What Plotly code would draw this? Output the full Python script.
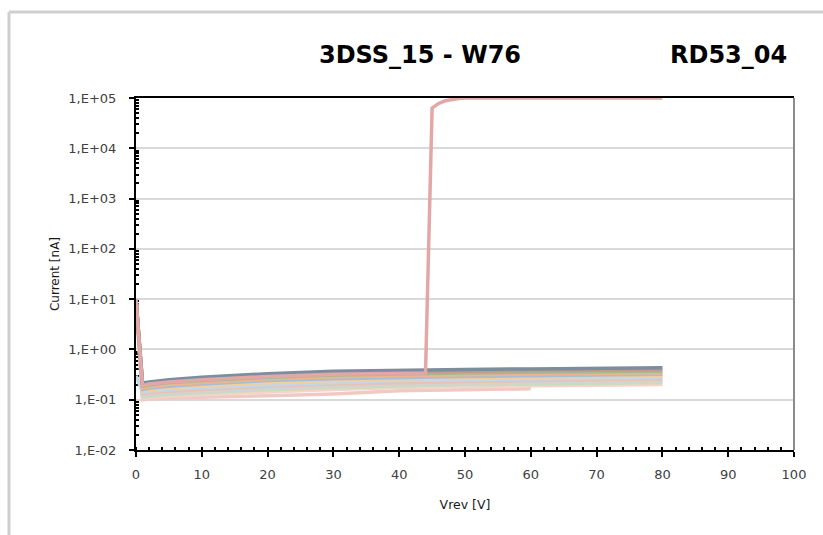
import plotly.graph_objects as go

# ---------------- data ----------------
V = [0, 1, 2, 5, 10, 20, 30, 40, 50, 60, 70, 80]

pix01 = [10, 0.215, 0.225, 0.25, 0.28, 0.33, 0.37, 0.39, 0.40, 0.41, 0.42, 0.43]
pix02 = [10, 0.200, 0.210, 0.235, 0.26, 0.305, 0.34, 0.36, 0.37, 0.38, 0.39, 0.40]
pix03 = [10, 0.185, 0.195, 0.220, 0.24, 0.28, 0.31, 0.33, 0.34, 0.35, 0.36, 0.37]
pix04 = [10, 0.172, 0.180, 0.200, 0.22, 0.26, 0.285, 0.305, 0.315, 0.325, 0.335, 0.345]
pix05 = [10, 0.160, 0.168, 0.185, 0.205, 0.24, 0.26, 0.28, 0.29, 0.30, 0.31, 0.32]
pix06 = [10, 0.150, 0.157, 0.172, 0.19, 0.22, 0.24, 0.26, 0.27, 0.28, 0.29, 0.30]
pix07 = [0.3, 0.140, 0.147, 0.160, 0.175, 0.20, 0.22, 0.24, 0.25, 0.26, 0.27, 0.28]
pix08 = [10, 0.130, 0.137, 0.148, 0.16, 0.185, 0.205, 0.22, 0.23, 0.24, 0.25, 0.26]
pix09 = [10, 0.120, 0.127, 0.137, 0.148, 0.17, 0.19, 0.205, 0.215, 0.22, 0.23, 0.24]
pix10 = [10, 0.112, 0.118, 0.127, 0.137, 0.158, 0.175, 0.19, 0.20, 0.205, 0.21, 0.22]
pix11 = [10, 0.105, 0.110, 0.118, 0.127, 0.145, 0.16, 0.175, 0.185, 0.19, 0.195, 0.20]

V12 = [0, 1, 2, 5, 10, 20, 30, 40, 50, 60]
pix12 = [10, 0.100, 0.103, 0.107, 0.112, 0.12, 0.13, 0.15, 0.16, 0.165]

VB = [0, 1, 2, 5, 10, 20, 30, 40, 43, 44, 45, 46, 47, 48, 49, 50, 60, 70, 80]
pixB = [10, 0.19, 0.205, 0.225, 0.25, 0.29, 0.32, 0.335, 0.34, 0.34,
        63000, 78000, 88000, 94000, 98000, 100000, 100000, 100000, 100000]

curves = [
    (V12, pix12, "#f1c9c4"),
    (V, pix11, "#f2d4c8"),
    (V, pix10, "#c9dcc0"),
    (V, pix09, "#d3d3d3"),
    (V, pix08, "#e5c4b6"),
    (V, pix07, "#c6d6e4"),
    (V, pix06, "#f3cf9e"),
    (V, pix05, "#a9bdd6"),
    (V, pix04, "#ebb68f"),
    (V, pix03, "#a7b98f"),
    (V, pix02, "#c49a8c"),
    (V, pix01, "#7b8d9e"),
    (VB, pixB, "#e3a7a7"),
]

y_tickvals = [1e-2, 1e-1, 1e0, 1e1, 1e2, 1e3, 1e4, 1e5]
y_ticktext = ["1,E-02", "1,E-01", "1,E+00", "1,E+01", "1,E+02", "1,E+03", "1,E+04", "1,E+05"]
x_tickvals = [0, 10, 20, 30, 40, 50, 60, 70, 80, 90, 100]

title_left = "3DSS_15 - W76"
title_right = "RD53_04"

# ---------------- figure ----------------
fig = go.Figure()
for xs, ys, col in curves:
    fig.add_trace(go.Scatter(x=xs, y=ys, mode="lines",
                             line=dict(color=col, width=3.5),
                             showlegend=False, hoverinfo="skip"))

FONT = "DejaVu Sans"
TICKCOL = "#404040"

minor_y = [m * 10 ** k for k in range(-2, 5) for m in range(2, 10)]

fig.update_layout(
    width=823, height=535,
    margin=dict(l=136, r=29, t=98, b=85),
    paper_bgcolor="white", plot_bgcolor="white",
    font=dict(family=FONT, color=TICKCOL),
    xaxis=dict(
        range=[0, 100], tickvals=x_tickvals,
        showline=True, linecolor="black", linewidth=2, mirror=True,
        ticks="outside", ticklen=5, tickwidth=2, tickcolor="black",
        showgrid=False, zeroline=False,
        tickfont=dict(family=FONT, size=13, color=TICKCOL),
        ticklabelstandoff=6,
        minor=dict(dtick=2, ticks="inside", ticklen=3, tickwidth=2, tickcolor="black", showgrid=False),
        title=dict(text="Vrev [V]", font=dict(family=FONT, size=12.5, color="#1a1a1a"), standoff=20),
        layer="below traces",
    ),
    yaxis=dict(
        type="log", range=[-2, 5],
        tickvals=y_tickvals, ticktext=y_ticktext,
        showline=True, linecolor="black", linewidth=2,
        ticks="outside", ticklen=5, tickwidth=2, tickcolor="black",
        showgrid=True, gridcolor="#d9d9d9", gridwidth=2,
        zeroline=False,
        tickfont=dict(family=FONT, size=13, color=TICKCOL),
        ticklabelstandoff=10,
        minor=dict(tickvals=minor_y, ticks="inside", ticklen=3, tickwidth=1.5, tickcolor="black", showgrid=False),
        title=dict(text="Current [nA]", font=dict(family=FONT, size=12, color="#1a1a1a"), standoff=6),
        layer="below traces",
    ),
    shapes=[
        dict(type="line", xref="paper", yref="paper", x0=-0.193, x1=1.1, y0=1.244, y1=1.244,
             line=dict(color="#cfcfcf", width=3)),
        dict(type="line", xref="paper", yref="paper", x0=-0.193, x1=-0.193, y0=-0.3, y1=1.244,
             line=dict(color="#cfcfcf", width=3)),
        dict(type="line", xref="paper", yref="paper", x0=1, x1=1, y0=0, y1=1,
             line=dict(color="#8c8c8c", width=2)),
    ],
    annotations=[
        dict(text=title_left, xref="paper", yref="paper", x=(420 - 136) / 658, y=(450 - 55) / 352,
             showarrow=False, xanchor="center", yanchor="middle",
             font=dict(family=FONT, size=24, color="black", weight="bold")),
        dict(text=title_right, xref="paper", yref="paper", x=(728 - 136) / 658, y=(450 - 55) / 352,
             showarrow=False, xanchor="center", yanchor="middle",
             font=dict(family=FONT, size=24, color="black", weight="bold")),
    ],
)

fig.write_html("out.html")
